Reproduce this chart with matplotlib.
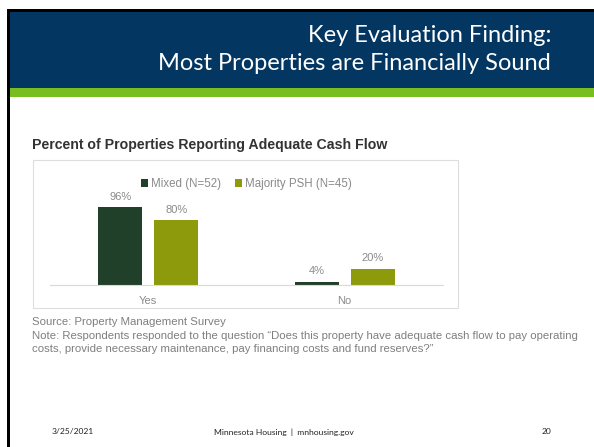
import matplotlib

matplotlib.use("Agg")
import matplotlib.pyplot as plt
from matplotlib.patches import Rectangle
import numpy as np

# --- Data ---------------------------------------------------------------------
categories = ["Yes", "No"]
series_names = ["Mixed (N=52)", "Majority PSH (N=45)"]
mixed = [96, 4]
majority_psh = [80, 20]

NAVY = "#033762"
LIME = "#78be20"
DARK_GREEN = "#21402a"
OLIVE = "#8c9a0c"
GRAY = "#8a8a8a"

W, H = 594, 447
fig = plt.figure(figsize=(W / 100, H / 100), dpi=100)


def px(x, y, w, h):
    """pixel box (top-left origin) -> figure fraction rect"""
    return [x / W, 1 - (y + h) / H, w / W, h / H]


def frect(x, y, w, h, **kw):
    r = px(x, y, w, h)
    fig.patches.append(Rectangle((r[0], r[1]), r[2], r[3], transform=fig.transFigure, **kw))


# --- Slide frame and header ---------------------------------------------------
frect(7, 9, W - 7, 3, color="black", lw=0)
frect(7, 9, 3, H - 9, color="black", lw=0)
frect(10, 12, W - 10, 76, color=NAVY, lw=0)
frect(10, 88, W - 10, 9, color=LIME, lw=0)

title_font = "Lato"
fig.text(551 / W, 1 - 36 / H, "Key Evaluation Finding:", ha="right", va="center",
         color="white", fontsize=17, family=title_font)
fig.text(551 / W, 1 - 64 / H, "Most Properties are Financially Sound", ha="right",
         va="center", color="white", fontsize=17, family=title_font)

# --- Chart ----------------------------------------------------------------------
fig.text(32 / W, 1 - 145 / H, "Percent of Properties Reporting Adequate Cash Flow",
         ha="left", va="center", color="#333333", fontsize=10.2, fontweight="bold",
         family="Liberation Sans")
frect(33, 160, 425, 148, facecolor="none", edgecolor="#dddddd", lw=0.8)

ax = fig.add_axes(px(50, 170, 393, 115))
x = np.arange(len(categories))
bw = 0.224
off = 0.143
b1 = ax.bar(x - off, mixed, bw, color=DARK_GREEN, label=series_names[0])
b2 = ax.bar(x + off, majority_psh, bw, color=OLIVE, label=series_names[1])
for bars in (b1, b2):
    ax.bar_label(bars, labels=[f"{v}%" for v in bars.datavalues], padding=4,
                 color=GRAY, fontsize=8, family="Liberation Sans")
ax.set_xlim(-0.5, 1.5)
ax.set_ylim(0, 142)
ax.set_yticks([])
ax.set_xticks(x, categories)
ax.tick_params(axis="x", length=0, pad=8, labelsize=8, labelcolor=GRAY)
for lab in ax.get_xticklabels():
    lab.set_family("Liberation Sans")
for s in ("top", "left", "right"):
    ax.spines[s].set_visible(False)
ax.spines["bottom"].set_color("#d9d9d9")
ax.spines["bottom"].set_linewidth(0.8)
ax.patch.set_alpha(0)
leg = ax.legend(loc="upper center", bbox_to_anchor=(0.50, 1.02), ncol=2, frameon=False,
                handlelength=0.6, handleheight=0.6, handletextpad=0.3,
                columnspacing=1.2, prop={"family": "Liberation Sans", "size": 8.3})
for t in leg.get_texts():
    t.set_color(GRAY)

# --- Notes ------------------------------------------------------------------------
note_kw = dict(ha="left", va="center", color="#7f7f7f", fontsize=8.2, family="Liberation Sans")
fig.text(32 / W, 1 - 322 / H, "Source: Property Management Survey", **note_kw)
fig.text(32 / W, 1 - 336 / H,
         "Note: Respondents responded to the question \u201cDoes this property have adequate "
         "cash flow to pay operating", **note_kw)
fig.text(32 / W, 1 - 349 / H,
         "costs, provide necessary maintenance, pay financing costs and fund reserves?\u201d",
         **note_kw)

# --- Footer -----------------------------------------------------------------------
foot_kw = dict(va="center", color="#222222", fontsize=6.1, family="Lato")
fig.text(52 / W, 1 - 432 / H, "3/25/2021", ha="left", **foot_kw)
fig.text(284 / W, 1 - 432 / H, "Minnesota Housing  |  mnhousing.gov", ha="center", **foot_kw)
fig.text(546 / W, 1 - 432 / H, "20", ha="center", **foot_kw)

fig.savefig("out.png", dpi=100)
